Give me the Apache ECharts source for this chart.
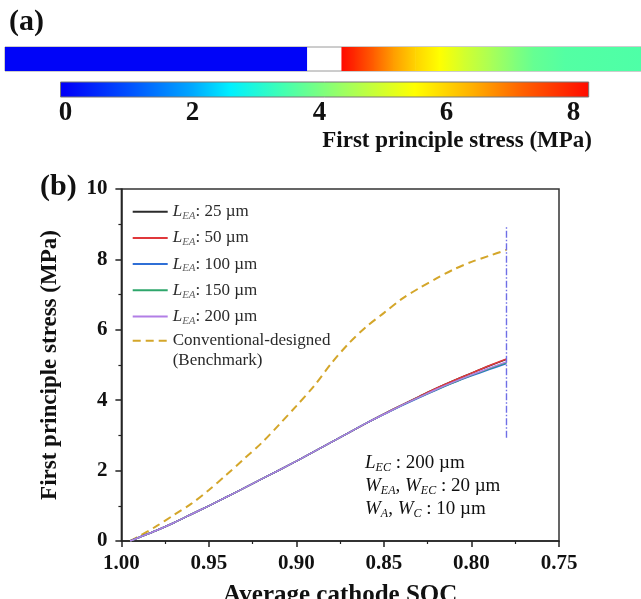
<!DOCTYPE html>
<html><head><meta charset="utf-8">
<script src="https://cdn.jsdelivr.net/npm/echarts@6/dist/echarts.min.js"></script>
<style>html,body{margin:0;padding:0;background:#fff}#c{width:641px;height:599px}</style>
</head><body><div id="c"></div>
<script>
// ---------- data ----------
const soc = [0.995,0.99,0.98,0.97,0.96,0.95,0.94,0.93,0.92,0.91,0.90,0.89,0.88,0.87,0.86,0.85,0.84,0.83,0.82,0.81,0.80,0.79,0.78];
const lea25  = [0,0.10,0.30,0.52,0.76,1.00,1.25,1.50,1.76,2.01,2.27,2.54,2.81,3.08,3.35,3.61,3.86,4.10,4.34,4.56,4.77,4.97,5.16];
const lea50  = [0,0.10,0.30,0.52,0.76,1.00,1.25,1.50,1.76,2.01,2.27,2.54,2.81,3.08,3.35,3.61,3.86,4.10,4.34,4.56,4.77,4.98,5.17];
const lea100 = [0,0.10,0.30,0.52,0.76,1.00,1.25,1.50,1.76,2.01,2.27,2.54,2.81,3.08,3.35,3.60,3.84,4.07,4.29,4.50,4.69,4.87,5.04];
const lea150 = [0,0.10,0.30,0.52,0.76,1.00,1.25,1.50,1.76,2.01,2.27,2.54,2.81,3.08,3.35,3.60,3.85,4.08,4.30,4.51,4.71,4.89,5.07];
const lea200 = [0,0.10,0.30,0.52,0.76,1.00,1.25,1.50,1.76,2.01,2.27,2.54,2.81,3.08,3.35,3.60,3.85,4.08,4.31,4.52,4.72,4.91,5.09];
const bench  = [0,0.13,0.42,0.74,1.06,1.45,1.88,2.33,2.78,3.30,3.84,4.40,5.05,5.62,6.09,6.48,6.87,7.18,7.46,7.72,7.93,8.10,8.27];
const refSoc = [0.78, 0.78];
const refStress = [2.93, 8.92];
const seriesNames = ['L_EA: 25 µm','L_EA: 50 µm','L_EA: 100 µm','L_EA: 150 µm','L_EA: 200 µm'];
const benchName = 'Conventional-designed (Benchmark)';
const cbarTicks = [0,2,4,6,8];
const cbarRange = [-0.077, 8.24];
const cmapVals   = [0, 1.0, 2.0, 2.6, 3.4, 4.4, 5.5, 6.4, 7.2, 8.25];
const cmapColors = ['#0000f8','#0050ff','#00a8ff','#00f0ff','#40ffb4','#a0ff60','#ffff00','#ffb000','#ff6000','#ff0a00'];
const anodePos = [0, 47.4];
const anodeStress = [0.05, 0.05];
const cathodePos = [52.9, 55, 58, 61, 64.5, 68.3, 72, 76.4, 80, 83, 88, 100];
const cathodeStress = [8.25, 7.85, 7.2, 6.6, 6.0, 5.5, 5.0, 4.5, 4.1, 3.8, 3.6, 3.55];

// ---------- helpers ----------
const FF = "'Times New Roman','Liberation Serif',serif";
function stressColor(v){
  if (v <= cmapVals[0]) return cmapColors[0];
  for (let i=1;i<cmapVals.length;i++){
    if (v <= cmapVals[i]){
      const t=(v-cmapVals[i-1])/(cmapVals[i]-cmapVals[i-1]);
      return echarts.color.lerp(t,[cmapColors[i-1],cmapColors[i]]);
    }
  }
  return cmapColors[cmapColors.length-1];
}
function segs(pos, st){
  const out=[];
  for(let i=0;i<pos.length-1;i++) out.push([pos[i],pos[i+1],st[i],st[i+1]]);
  return out;
}
const barSegs = segs(anodePos, anodeStress).concat(segs(cathodePos, cathodeStress));
const pairs = arr => soc.map((s,i)=>[s,arr[i]]);

const chart = echarts.init(document.getElementById('c'), null, {renderer:'canvas'});

const richBase = {
  L:{fontFamily:FF,fontStyle:'italic',fontSize:17,lineHeight:20,color:'#2a2a2a'},
  s:{fontFamily:FF,fontStyle:'italic',fontSize:11,lineHeight:11,padding:[9,0,0,0],color:'#666'},
  t:{fontFamily:FF,fontSize:17,lineHeight:20,color:'#2a2a2a'}
};
function legendFmt(name){
  if (name.indexOf('L_EA')===0) return '{L|L}{s|EA}{t|' + name.slice(4) + '}';
  return '{t| }\n{t|Conventional-designed}\n{t|(Benchmark)}';
}

const lineColors = ['#2b2b2b','#e0383b','#2f6fd6','#2ea66b','#b27ee6'];
const leaData = [lea25, lea50, lea100, lea150, lea200];

const series = [
  {
    type:'custom', xAxisIndex:0, yAxisIndex:0, data: barSegs, encode:{x:[0,1]}, silent:true,
    renderItem:function(params, api){
      const x0=api.value(0), x1=api.value(1), s0=api.value(2), s1=api.value(3);
      const p0=api.coord([x0,0]), p1=api.coord([x1,1]);
      return {type:'rect', shape:{x:p0[0], y:p1[1], width:p1[0]-p0[0]+0.6, height:p0[1]-p1[1]},
        style:{fill:new echarts.graphic.LinearGradient(0,0,1,0,[{offset:0,color:stressColor(s0)},{offset:1,color:stressColor(s1)}])}};
    }
  },
  {
    type:'custom', xAxisIndex:1, yAxisIndex:1, data:[cbarRange], encode:{x:[0,1]}, silent:true,
    renderItem:function(params, api){
      const lo=api.value(0), hi=api.value(1);
      const p0=api.coord([lo,0]), p1=api.coord([hi,1]);
      const stops = cmapVals.map((v,i)=>({offset:Math.min(1,Math.max(0,(v-lo)/(hi-lo))), color:cmapColors[i]}));
      return {type:'rect', shape:{x:p0[0], y:p1[1], width:p1[0]-p0[0], height:p0[1]-p1[1]},
        style:{fill:new echarts.graphic.LinearGradient(0,0,1,0,stops), stroke:'#777', lineWidth:1}};
    }
  },
  {
    type:'line', name:benchName, xAxisIndex:2, yAxisIndex:2, data:pairs(bench), symbol:'none', smooth:0.3,
    lineStyle:{color:'#d4a62a', width:2, type:[8,5]}, itemStyle:{color:'#d4a62a'}, z:3
  }
];
leaData.forEach((arr,i)=>{
  series.push({type:'line', name:seriesNames[i], xAxisIndex:2, yAxisIndex:2, data:pairs(arr), symbol:'none', smooth:0.3,
    lineStyle:{color:lineColors[i], width:1.5}, itemStyle:{color:lineColors[i]}, z:4+i});
});
series.push({type:'line', name:'ref', xAxisIndex:2, yAxisIndex:2, data:refSoc.map((s,i)=>[s,refStress[i]]), symbol:'none',
  lineStyle:{color:'#6f6fe6', width:1.4, type:[7,2,1.5,2]}, z:10});

const legendCommon = {orient:'vertical', left:131.7, padding:0, itemWidth:35, itemHeight:12, itemTextGap:5,
  formatter:legendFmt, itemStyle:{opacity:0, borderWidth:0},
  textStyle:{fontFamily:FF, fontSize:17, color:'#2a2a2a', lineHeight:20, rich:richBase}, selectedMode:false};

const option = {
  backgroundColor:'#fff',
  animation:false,
  grid:[
    {left:5, right:0, top:47, height:24, show:true, borderColor:'#9a9a9a', borderWidth:1, backgroundColor:'#fff', outerBoundsMode:'none', containLabel:false},
    {left:60.5, right:52.3, top:82, height:15, show:false, outerBoundsMode:'none', containLabel:false},
    {left:121.4, right:82, top:189, bottom:58, show:true, borderColor:'#333', borderWidth:1.5, backgroundColor:'transparent', outerBoundsMode:'none', containLabel:false}
  ],
  xAxis:[
    {gridIndex:0, type:'value', min:0, max:100, show:false},
    {gridIndex:1, type:'value', min:cbarRange[0], max:cbarRange[1], position:'bottom',
      axisLine:{show:false}, splitLine:{show:false},
      axisTick:{show:true, inside:true, length:3, customValues:cbarTicks, lineStyle:{color:'#333'}},
      axisLabel:{customValues:cbarTicks, fontFamily:FF, fontWeight:'bold', fontSize:27, color:'#111', margin:3}},
    {gridIndex:2, type:'value', inverse:true, min:0.75, max:1.0, interval:0.05,
      axisLine:{show:true, onZero:false, lineStyle:{color:'#222', width:1.5}},
      axisTick:{show:true, inside:false, length:6, lineStyle:{color:'#222', width:1.5}},
      minorTick:{show:true, splitNumber:2, length:3, lineStyle:{color:'#222', width:1.2}},
      splitLine:{show:false},
      axisLabel:{formatter:v=>v.toFixed(2), fontFamily:FF, fontWeight:'bold', fontSize:21, color:'#111', margin:12},
      name:'Average cathode SOC', nameLocation:'middle', nameGap:42,
      nameTextStyle:{fontFamily:FF, fontWeight:'bold', fontSize:25, color:'#111'}}
  ],
  yAxis:[
    {gridIndex:0, type:'value', min:0, max:1, show:false},
    {gridIndex:1, type:'value', min:0, max:1, show:false},
    {gridIndex:2, type:'value', min:0, max:10, interval:2,
      axisLine:{show:true, onZero:false, lineStyle:{color:'#222', width:1.5}},
      axisTick:{show:true, inside:false, length:6, lineStyle:{color:'#222', width:1.5}},
      minorTick:{show:true, splitNumber:2, length:3, lineStyle:{color:'#222', width:1.2}},
      splitLine:{show:false},
      axisLabel:{fontFamily:FF, fontWeight:'bold', fontSize:21, color:'#111', margin:14},
      name:'First principle stress (MPa)', nameLocation:'middle', nameGap:60,
      nameTextStyle:{fontFamily:FF, fontWeight:'bold', fontSize:23, color:'#111'}}
  ],
  legend:[
    Object.assign({}, legendCommon, {data:seriesNames, top:201.7, itemGap:6.2}),
    Object.assign({}, legendCommon, {data:[benchName], top:310.7})
  ],
  graphic:[
    {type:'text', left:9, top:7, style:{text:'(a)', font:"bold 30px "+FF, fill:'#111'}},
    {type:'text', left:40, top:172, style:{text:'(b)', font:"bold 30px "+FF, fill:'#111'}},
    {type:'text', right:49, top:130, style:{text:'First principle stress (MPa)', font:"bold 23px "+FF, fill:'#111'}},
    {type:'text', left:365, top:452, style:{
      text:'{L|L}{s|EC}{t| : 200 µm}\n{L|W}{s|EA}{t|, }{L|W}{s|EC}{t| : 20 µm}\n{L|W}{s|A}{t|, }{L|W}{s|C}{t| : 10 µm}',
      rich:{
        L:{fontFamily:FF,fontStyle:'italic',fontSize:19,lineHeight:23,fill:'#111'},
        s:{fontFamily:FF,fontStyle:'italic',fontSize:12,lineHeight:12,padding:[10,0,0,0],fill:'#111'},
        t:{fontFamily:FF,fontSize:19,lineHeight:23,fill:'#111'}
      }}}
  ],
  series:series
};
chart.setOption(option);
</script>
</body></html>
